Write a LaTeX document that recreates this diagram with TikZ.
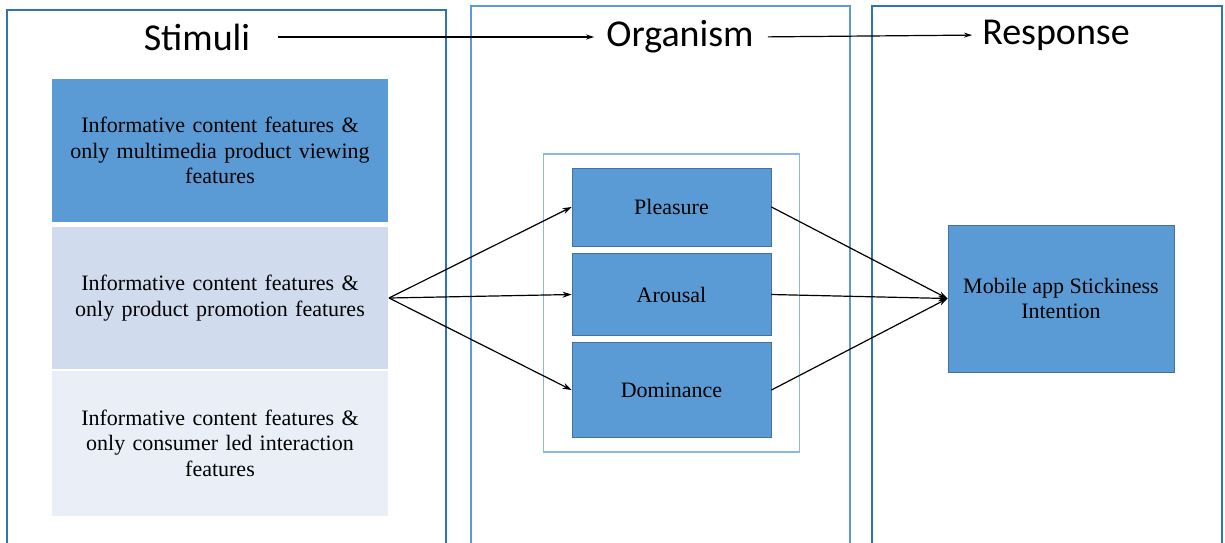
\documentclass[tikz,border=0pt]{standalone}
\usepackage{fontspec}
\setmainfont{Liberation Serif}
\newfontfamily\headfont{Carlito}
\usetikzlibrary{arrows.meta}
\definecolor{frameDark}{HTML}{2E75B6}
\definecolor{frameLight}{HTML}{5B9BD5}
\definecolor{innerFrame}{HTML}{8AB8E6}
\definecolor{boxFill}{HTML}{5B9BD5}
\definecolor{boxEdge}{HTML}{41719C}
\definecolor{fillMid}{HTML}{D0DCEE}
\definecolor{fillPale}{HTML}{E9EEF7}
\tikzset{
  heading/.style={font=\headfont\fontsize{38}{44}\selectfont, inner sep=0pt, anchor=center},
  stimbox/.style={draw=none, minimum width=336pt, inner sep=0pt, align=center,
    font=\fontsize{22}{25.5}\selectfont, text width=336pt},
  orgbox/.style={draw=boxEdge, line width=0.9pt, fill=boxFill, minimum width=199pt,
    inner sep=0pt, align=center, font=\fontsize{22}{25.5}\selectfont},
  link/.style={draw=black, line width=1.2pt, -{Stealth[length=9pt,width=6pt]}},
  toplink/.style={draw=black, line width=1.2pt, -{Stealth[length=8pt,width=5pt]}}
}
\begin{document}
\begin{tikzpicture}[x=1pt,y=-1pt]
  \useasboundingbox (0,0) rectangle (1225,542);
  \clip (0,0) rectangle (1225,542);
  \fill[white] (0,0) rectangle (1225,542);

  % the three column frames, open at the bottom edge
  \draw[frameDark, line width=2.2pt] (7,580) -- (7,10) -- (446,10) -- (446,580);
  \draw[frameLight, line width=2.2pt] (471,580) -- (471,6) -- (850,6) -- (850,580);
  \draw[frameDark, line width=2.2pt] (872,580) -- (872,6) -- (1222,6) -- (1222,580);

  % column headings
  \node[heading] (stim) at (197,37) {Stimuli};
  \node[heading] (org) at (680,37) {Organism};
  \node[heading] (resp) at (1056,35) {Response};
  \draw[toplink, shorten <=28pt, shorten >=12pt] (stim.east) -- (org.west);
  \draw[toplink, shorten <=14pt, shorten >=10pt] (org.east) -- (resp.west);

  % stimuli conditions
  \node[stimbox, fill=boxFill, minimum height=143pt] (s1) at (220,150.5)
    {Informative content features \&\\ only multimedia product viewing\\ features};
  \node[stimbox, fill=fillMid, minimum height=142pt] (s2) at (220,298)
    {Informative content features \&\\ only product promotion features};
  \node[stimbox, fill=fillPale, minimum height=145pt] (s3) at (220,443)
    {Informative content features \&\\ only consumer led interaction\\ features};

  % organism states
  \draw[innerFrame, line width=1.3pt] (543.5,154) rectangle (799.5,452);
  \node[orgbox, minimum height=78pt] (pl) at (671.5,207) {Pleasure};
  \node[orgbox, minimum height=82pt] (ar) at (671.5,294.5) {Arousal};
  \node[orgbox, minimum height=95pt] (dom) at (671.5,390) {Dominance};

  % response
  \node[orgbox, minimum width=226pt, minimum height=147pt] (mob) at (1061,298.5)
    {Mobile app Stickiness\\ Intention};

  % paths
  \coordinate (fan) at (389,298);
  \draw[link] (fan) -- (pl.west);
  \draw[link] (fan) -- (ar.west);
  \draw[link] (fan) -- (dom.west);
  \draw[link] (pl.east) -- (mob.west);
  \draw[link] (ar.east) -- (mob.west);
  \draw[link] (dom.east) -- (mob.west);
\end{tikzpicture}
\end{document}
